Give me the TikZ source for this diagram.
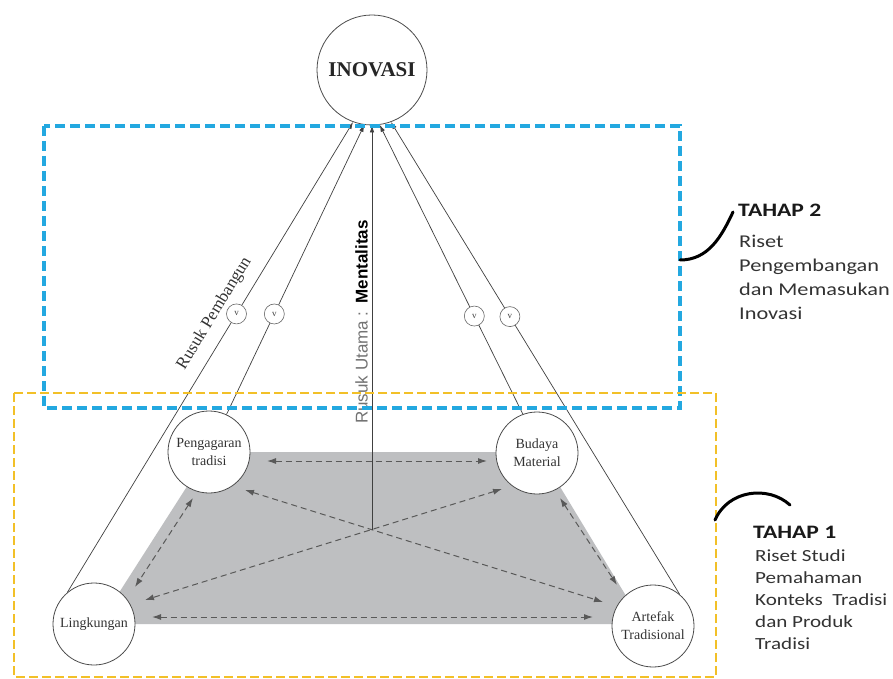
\documentclass[tikz,border=0pt]{standalone}
\usepackage{fontspec}
\setmainfont{Liberation Serif}
\newfontfamily\calfont[FakeStretch=1.24]{Carlito}
\newfontfamily\arialfont{Liberation Sans}
\usetikzlibrary{arrows.meta,calc}
\definecolor{bluedash}{RGB}{35,168,224}
\definecolor{golddash}{RGB}{242,192,40}
\definecolor{basegray}{RGB}{190,191,193}
\begin{document}
\begin{tikzpicture}[x=1pt,y=-1pt,
  circ/.style={circle, draw=black!70, line width=0.8pt, fill=white, minimum size=82pt,
    inner sep=0pt, align=center, font=\fontsize{14}{18}\selectfont, text=black!80},
  vc/.style={circle, draw=black!60, line width=0.6pt, fill=white, minimum size=20pt,
    inner sep=0pt, font=\fontsize{9}{9}\selectfont, text=black!75},
  ray/.style={draw=black!75, line width=0.7pt, -{Latex[length=7pt,width=4.5pt]}},
  darr/.style={draw=black!65, line width=1pt, dash pattern=on 6pt off 4pt,
    {Latex[length=9pt,width=6pt]}-{Latex[length=9pt,width=6pt]}},
  arcline/.style={line width=3pt, line cap=round},
  ttl/.style={anchor=base west, inner sep=0pt, font=\calfont\bfseries\fontsize{19}{19}\selectfont, text=black!90},
  bodyA/.style={anchor=base west, inner sep=0pt, font=\calfont\fontsize{18}{18}\selectfont, text=black!80},
  bodyB/.style={anchor=base west, inner sep=0pt, font=\calfont\fontsize{17}{17}\selectfont, text=black!80}
]
\useasboundingbox (0,0) rectangle (893,679);
\fill[white] (0,0) rectangle (893,679);

% base
\fill[basegray] (209,452) -- (539,452) -- (643,624) -- (99,624) -- cycle;

% nodes
\node[circ, minimum size=110pt, font=\bfseries\fontsize{21}{21}\selectfont, text=black!85] (inov) at (372,70) {INOVASI};
\node[circ] (peng) at (209,452) {Pengagaran\\tradisi};
\node[circ] (bud) at (537,453) {Budaya\\Material};
\node[circ] (ling) at (94,624) {Lingkungan};
\node[circ] (art) at (653,626) {Artefak\\Tradisional};

% dashed relations
\coordinate (pE) at (267,461); \coordinate (bW) at (487,461);
\coordinate (pSE) at (245,490); \coordinate (aNW) at (603,602);
\coordinate (pSW) at (193,498); \coordinate (lNE) at (135,587);
\coordinate (bSW) at (502,489); \coordinate (lE1) at (145,600);
\coordinate (lE2) at (152,617); \coordinate (aW) at (593,617);
\coordinate (bS) at (560,498); \coordinate (aN) at (617,585);
\draw[darr] (pE) -- (bW);
\draw[darr] (lE2) -- (aW);
\draw[darr] (pSW) -- (lNE);
\draw[darr] (bS) -- (aN);
\draw[darr] (pSE) -- (aNW);
\draw[darr] (bSW) -- (lE1);

% main rib
\coordinate (ctr) at (372,530);
\draw[ray] (ctr) -- (inov.south);
\node[rotate=90, anchor=south, inner sep=1pt, font=\arialfont\fontsize{17}{17}\selectfont, text=black!55] (ru) at (369,322)
  {Rusuk Utama :\hspace{8pt}\textbf{\color{black}Mentalitas}};

% building ribs
\draw[ray] (ling.130) -- node[vc,pos=0.592] (v1) {v}
  node[pos=0.572, sloped, above=11pt, inner sep=0pt, font=\fontsize{17}{17}\selectfont, text=black!80] (rp) {Rusuk Pembangun} (inov.-110);
\draw[ray] (peng.65) -- node[vc,pos=0.347] (v2) {v} (inov.-98);
\draw[ray] (bud.110) -- node[vc,pos=0.339] (v3) {v} (inov.-82);
\draw[ray] (art.50) -- node[vc,pos=0.588] (v4) {v} (inov.-70);

% stage frames
\draw[bluedash, line width=3.2pt, dash pattern=on 10pt off 5pt] (44,126) rectangle (680,408);
\draw[golddash, line width=2pt, dash pattern=on 9pt off 4pt] (14,393) rectangle (716,677);

% TAHAP 2
\coordinate (t2s) at (680,260); \coordinate (t2e) at (733,212);
\draw[arcline] (t2s) to[out=0,in=-115] (t2e);
\node[ttl] (t2) at (738,216) {TAHAP 2};
\foreach \t [count=\i] in {Riset,Pengembangan,dan Memasukan,Inovasi}
  \node[bodyA] (t2l\i) at (739,{247+24*(\i-1)}) {\t};

% TAHAP 1
\coordinate (t1s) at (715,520); \coordinate (t1e) at (790,505);
\draw[arcline] (t1s) .. controls (728,490) and (768,485) .. (t1e);
\node[ttl] (t1) at (753,538) {TAHAP 1};
\foreach \t [count=\i] in {Riset Studi,Pemahaman,Konteks\ \ Tradisi,dan Produk,Tradisi}
  \node[bodyB] (t1l\i) at (755,{561+22*(\i-1)}) {\t};
\end{tikzpicture}
\end{document}
